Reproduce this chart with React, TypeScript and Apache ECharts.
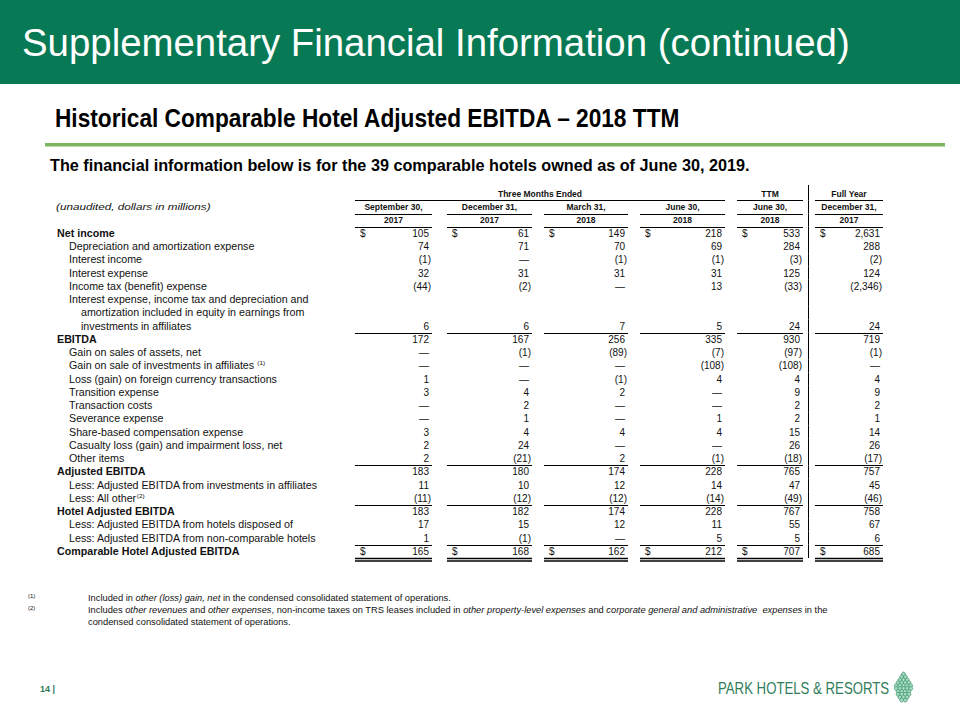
import React, { useEffect, useRef } from "react";
import * as echarts from "echarts";

// ---------------- data ----------------
const slideTitle = "Supplementary Financial Information (continued)";
const sectionTitle = "Historical Comparable Hotel Adjusted EBITDA \u2013 2018 TTM";
const introText = "The financial information below is for the 39 comparable hotels owned as of June 30, 2019.";
const unitsNote = "(unaudited, dollars in millions)";

const groupTitles = ["Three Months Ended", "TTM", "Full Year"];
const columnDates = ["September 30,", "December 31,", "March 31,", "June 30,", "June 30,", "December 31,"];
const columnYears = ["2017", "2017", "2018", "2018", "2018", "2017"];

const rowLabels = [
  "Net income",
  "Depreciation and amortization expense",
  "Interest income",
  "Interest expense",
  "Income tax (benefit) expense",
  "Interest expense, income tax and depreciation and",
  "amortization included in equity in earnings from",
  "investments in affiliates",
  "EBITDA",
  "Gain on sales of assets, net",
  "Gain on sale of investments in affiliates ",
  "Loss (gain) on foreign currency transactions",
  "Transition expense",
  "Transaction costs",
  "Severance expense",
  "Share-based compensation expense",
  "Casualty loss (gain) and impairment loss, net",
  "Other items",
  "Adjusted EBITDA",
  "Less: Adjusted EBITDA from investments in affiliates",
  "Less: All other",
  "Hotel Adjusted EBITDA",
  "Less: Adjusted EBITDA from hotels disposed of",
  "Less: Adjusted EBITDA from non-comparable hotels",
  "Comparable Hotel Adjusted EBITDA",
];
const rowNoteRefs = ["", "", "", "", "", "", "", "", "", "", "(1)", "", "", "", "", "", "", "", "", "", "(2)", "", "", "", ""];

const sep30_2017 = [105, 74, -1, 32, -44, null, null, 6, 172, 0, 0, 1, 3, 0, 0, 3, 2, 2, 183, 11, -11, 183, 17, 1, 165];
const dec31_2017 = [61, 71, 0, 31, -2, null, null, 6, 167, -1, 0, 0, 4, 2, 1, 4, 24, -21, 180, 10, -12, 182, 15, -1, 168];
const mar31_2018 = [149, 70, -1, 31, 0, null, null, 7, 256, -89, 0, -1, 2, 0, 0, 4, 0, 2, 174, 12, -12, 174, 12, 0, 162];
const jun30_2018 = [218, 69, -1, 31, 13, null, null, 5, 335, -7, -108, 4, 0, 0, 1, 4, 0, -1, 228, 14, -14, 228, 11, 5, 212];
const ttmJun30_2018 = [533, 284, -3, 125, -33, null, null, 24, 930, -97, -108, 4, 9, 2, 2, 15, 26, -18, 765, 47, -49, 767, 55, 5, 707];
const fyDec31_2017 = [2631, 288, -2, 124, -2346, null, null, 24, 719, -1, 0, 4, 9, 2, 1, 14, 26, -17, 757, 45, -46, 758, 67, 6, 685];
const columnValues = [sep30_2017, dec31_2017, mar31_2018, jun30_2018, ttmJun30_2018, fyDec31_2017];

const footnoteMarks = ["(1)", "(2)"];
const footnoteLines = [
  "Included in {i|other (loss) gain, net} in the condensed consolidated statement of operations.",
  "Includes {i|other revenues} and {i|other expenses}, non-income taxes on TRS leases included in {i|other property-level expenses} and {i|corporate general and administrative  expenses} in the",
  "condensed consolidated statement of operations.",
];
const pageNumber = "14 |";
const brandName = "PARK HOTELS & RESORTS";

// ---------------- layout / style ----------------
const FONT = "'Liberation Sans', Arial, Helvetica, sans-serif";
const GREEN = "#077a55";
const INK = "#111111";
const TABLE_TOP = 187;
const ROW_H = 13.25;
const HEADER_ROWS = 3;
const LABEL_LEFT = 57;
const INDENT_1 = 12;
const INDENT_2 = 24;
const LABEL_SCALE = 1.07;
const colSpans: [number, number][] = [
  [355, 432],
  [447, 532],
  [544, 628],
  [640, 725],
  [737, 803],
  [815, 883],
];
const boldRows = [0, 8, 18, 21, 24];
const deepIndentRows = [6, 7];
const currencyRows = [0, 24];
const underlineRows = [7, 17, 20, 23];
const doubleUnderlineRows = [24];

const rowKeys = ["hdrGroup", "hdrDate", "hdrYear", ...rowLabels.map((_, i) => "row" + i)];
const TABLE_H = rowKeys.length * ROW_H;

function fmt(v: number | null): string {
  if (v === null || v === undefined) return "";
  if (v === 0) return "\u2014";
  const s = Math.abs(v).toLocaleString("en-US");
  return v < 0 ? "(" + s + ")" : s;
}

function hline(x1: number, x2: number, y: number, w = 1) {
  return { type: "line", shape: { x1, y1: y, x2, y2: y }, style: { stroke: "#000", lineWidth: w } };
}

function txt(x: number, y: number, text: string, font: string, align: string, extra: any = {}, scaleX = 1) {
  return {
    type: "text",
    x,
    y,
    scaleX,
    style: { text, font, fill: INK, textAlign: align, textVerticalAlign: "middle", verticalAlign: "middle", ...extra },
  };
}

function buildOption() {
  const grids: any[] = [];
  const xAxes: any[] = [];
  const yAxes: any[] = [];
  const addGrid = (left: number, width: number) => {
    const idx = grids.length;
    grids.push({ left, width, top: TABLE_TOP, height: TABLE_H, containLabel: false, show: false });
    xAxes.push({ gridIndex: idx, type: "value", min: 0, max: 1, show: false });
    yAxes.push({ gridIndex: idx, type: "category", data: rowKeys, inverse: true, show: false });
    return idx;
  };

  const series: any[] = [];

  // label column
  const gLabel = addGrid(LABEL_LEFT, 280);
  series.push({
    type: "custom",
    xAxisIndex: gLabel,
    yAxisIndex: gLabel,
    silent: true,
    data: rowKeys.map((_, i) => [0, i]),
    renderItem: (params: any, api: any) => {
      const i = api.value(1) as number;
      const [x0, yc] = api.coord([0, i]);
      if (i === 1) {
        return txt(x0 - 1, yc, unitsNote, `italic 9px ${FONT}`, "left", {}, 1.3);
      }
      if (i < HEADER_ROWS) return { type: "group", children: [] };
      const r = i - HEADER_ROWS;
      const bold = boldRows.includes(r);
      const dx = bold ? 0 : deepIndentRows.includes(r) ? INDENT_2 : INDENT_1;
      const note = rowNoteRefs[r];
      const label = rowLabels[r] + (note ? "{sup|" + note + "}" : "");
      return txt(
        x0 + dx,
        yc,
        label,
        `${bold ? "bold " : ""}10px ${FONT}`,
        "left",
        { rich: { sup: { fontSize: 6, fontFamily: FONT, verticalAlign: "top", fill: INK, lineHeight: 12 } } },
        LABEL_SCALE
      );
    },
  });

  // value columns
  columnValues.forEach((values, k) => {
    const [l, r] = colSpans[k];
    const g = addGrid(l, r - l);
    series.push({
      type: "custom",
      xAxisIndex: g,
      yAxisIndex: g,
      silent: true,
      data: rowKeys.map((_, i) => [0, i]),
      renderItem: (params: any, api: any) => {
        const i = api.value(1) as number;
        const [left, yc] = api.coord([0, i]);
        const [right] = api.coord([1, i]);
        const band = api.size([0, 1])[1];
        const top = yc - band / 2;
        const bottom = Math.round(yc + band / 2) + 0.5;
        const mid = (left + right) / 2;
        const kids: any[] = [];
        const hdrFont = `bold 8.5px ${FONT}`;
        if (k === columnValues.length - 1) {
          kids.push({
            type: "line",
            shape: { x1: left - 6.5, y1: top - (i === 0 ? 2 : 0), x2: left - 6.5, y2: yc + band / 2 },
            style: { stroke: "#000", lineWidth: 1 },
          });
        }
        if (i === 0) {
          if (k >= 4) {
            kids.push(txt(mid, yc, groupTitles[k - 3], hdrFont, "center"));
            kids.push(hline(left, right, bottom));
          }
        } else if (i === 1) {
          kids.push(txt(mid, yc, columnDates[k], hdrFont, "center"));
          kids.push(hline(left, right, bottom));
        } else if (i === 2) {
          kids.push(txt(mid, yc, columnYears[k], hdrFont, "center"));
          kids.push(hline(left, right, bottom));
        } else {
          const row = i - HEADER_ROWS;
          const v = values[row];
          if (currencyRows.includes(row)) kids.push(txt(left + 5, yc, "$", `10px ${FONT}`, "left"));
          const s = fmt(v as number | null);
          if (s) {
            const rx = v !== null && (v as number) < 0 ? right - 1 : right - 3;
            kids.push(txt(rx, yc, s, `10px ${FONT}`, "right"));
          }
          if (underlineRows.includes(row)) kids.push(hline(left, right, bottom));
          if (doubleUnderlineRows.includes(row)) {
            kids.push(hline(left, right, bottom, 1.5));
            kids.push(hline(left, right, bottom + 2.5, 1.5));
          }
        }
        return { type: "group", children: kids };
      },
    });
  });

  // "Three Months Ended" group header spanning the first four columns
  const gGroup = addGrid(colSpans[0][0], colSpans[3][1] - colSpans[0][0]);
  series.push({
    type: "custom",
    xAxisIndex: gGroup,
    yAxisIndex: gGroup,
    silent: true,
    data: [[0, 0]],
    renderItem: (params: any, api: any) => {
      const [left, yc] = api.coord([0, 0]);
      const [right] = api.coord([1, 0]);
      const band = api.size([0, 1])[1];
      const bottom = Math.round(yc + band / 2) + 0.5;
      return {
        type: "group",
        children: [txt((left + right) / 2, yc, groupTitles[0], `bold 8.5px ${FONT}`, "center"), hline(left, right, bottom)],
      };
    },
  });

  // logo (decorative pine-cone of scales)
  const logoRows = [1, 2, 3, 4, 5, 5, 4, 4, 3, 2];
  const logo: any[] = [];
  logoRows.forEach((n, j) => {
    for (let m = 0; m < n; m++) {
      logo.push({
        type: "circle",
        shape: { cx: 903.5 + (m - (n - 1) / 2) * 3.6, cy: 674 + j * 2.9, r: 1.9 },
        style: { fill: "#a9d9c0", stroke: "#3d9a72", lineWidth: 0.8 },
      });
    }
  });

  const mid = { textVerticalAlign: "middle", verticalAlign: "middle" };
  const graphic: any[] = [
    { type: "rect", shape: { x: 0, y: 0, width: 960, height: 84 }, style: { fill: GREEN } },
    {
      type: "text",
      x: 22,
      y: 43,
      scaleX: 1.01,
      style: { text: slideTitle, font: `38px ${FONT}`, fill: "#ffffff", ...mid },
    },
    {
      type: "text",
      x: 55,
      y: 118,
      scaleX: 0.907,
      style: { text: sectionTitle, font: `bold 25px ${FONT}`, fill: "#000", ...mid },
    },
    { type: "rect", shape: { x: 45, y: 143, width: 900, height: 3.5 }, style: { fill: "#7db55e" } },
    {
      type: "text",
      x: 50,
      y: 165,
      scaleX: 0.955,
      style: { text: introText, font: `bold 17px ${FONT}`, fill: "#000", ...mid },
    },
    ...footnoteMarks.map((m, j) => ({
      type: "text",
      x: 28,
      y: 596 + j * 12,
      style: { text: m, font: `6px ${FONT}`, fill: INK, ...mid },
    })),
    ...footnoteLines.map((t, j) => ({
      type: "text",
      x: 88,
      y: 598 + j * 12,
      style: {
        text: t,
        font: `9.3px ${FONT}`,
        fill: INK,
        ...mid,
        rich: { i: { fontStyle: "italic", fontSize: 9.3, fontFamily: FONT, fill: INK } },
      },
    })),
    {
      type: "text",
      x: 40,
      y: 689,
      style: { text: pageNumber, font: `bold 9px ${FONT}`, fill: "#2b7a56", ...mid },
    },
    {
      type: "text",
      x: 718,
      y: 688,
      scaleX: 0.8,
      style: { text: brandName, font: `16.5px ${FONT}`, fill: "#2f7d5b", ...mid },
    },
    ...logo,
  ];

  return {
    animation: false,
    backgroundColor: "#ffffff",
    grid: grids,
    xAxis: xAxes,
    yAxis: yAxes,
    series,
    graphic,
  };
}

export default function App() {
  const ref = useRef<HTMLDivElement>(null);
  useEffect(() => {
    if (!ref.current) return;
    const chart = echarts.init(ref.current, null, { renderer: "svg" });
    chart.setOption(buildOption() as any);
    return () => chart.dispose();
  }, []);
  return (
    <div
      ref={ref}
      style={{ position: "absolute", left: 0, top: 0, width: 960, height: 720, background: "#ffffff" }}
    />
  );
}
